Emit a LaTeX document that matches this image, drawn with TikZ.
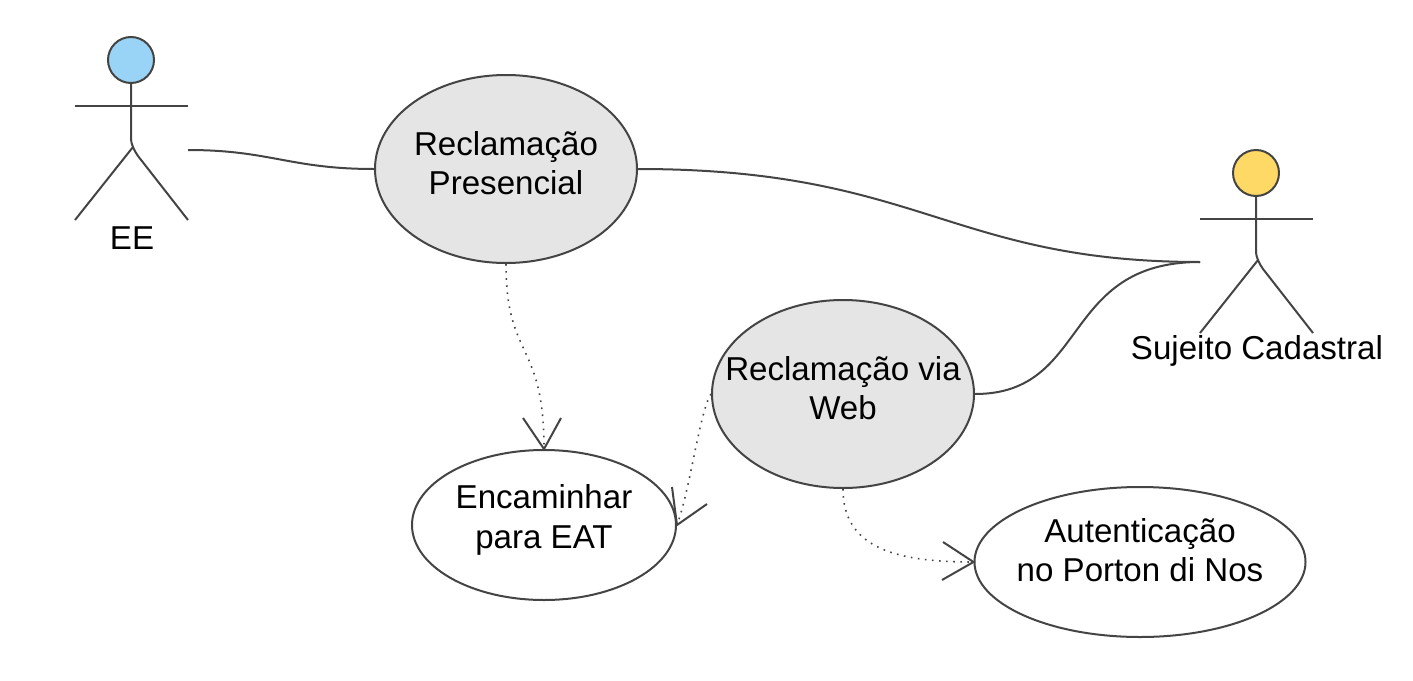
\documentclass[tikz,border=0pt]{standalone}
\usepackage{fontspec}
\setmainfont{Liberation Sans}
\usetikzlibrary{shapes.geometric}
\begin{document}
\begin{tikzpicture}[x=1pt,y=-1pt,
  usecase/.style={draw=linegray, line width=2pt, ellipse, inner sep=0pt},
  caselabel/.style={align=center, inner sep=0pt, font=\fontsize{33.1}{39.5}\selectfont, text=black},
  actorlabel/.style={font=\fontsize{33.1}{39}\selectfont, text=black, inner sep=0pt},
  line/.style={draw=linegray, line width=2pt},
  depline/.style={draw=linegray, line width=1.6pt, dash pattern=on 1.6pt off 5.5pt}]
  % Define colors
  \definecolor{linegray}{RGB}{68,68,68}
  \definecolor{casegray}{RGB}{229,229,229}
  \definecolor{actorblue}{RGB}{153,211,245}
  \definecolor{actoryellow}{RGB}{255,217,102}
  \useasboundingbox (0,0) rectangle (1413,680);

  % Actors
  \foreach \name/\x/\y/\color in {ee/131/60/actorblue,sc/1256/173/actoryellow} {
    \begin{scope}[shift={(\x,\y)}]
      \node[circle, draw=linegray, fill=\color, line width=2pt, minimum size=46pt, inner sep=0pt] (\name head) at (0,0) {};
      \coordinate (\name hip) at (2,87);
      \coordinate (\name left) at (-56,46);
      \coordinate (\name right) at (57,46);
      \coordinate (\name footl) at (-56,160);
      \coordinate (\name footr) at (57,160);
      \draw[line] (\name head.south) -- (0,77) .. controls (0,82) and (1,85) .. (\name hip) .. controls (3,90) and (5,93) .. (7,96) -- (\name footr);
      \draw[line] (\name left) -- (\name right);
      \draw[line] (\name footl) -- (\name hip);
    \end{scope}
  }
  \node[actorlabel] (eelabel) at (132,238) {EE};
  \node[actorlabel] (sclabel) at (1257,351) {Sujeito Cadastral};

  % Use cases
  \node[usecase, fill=casegray, minimum width=262pt, minimum height=188pt] (presencial) at (506,169) {};
  \node[usecase, fill=casegray, minimum width=262pt, minimum height=188pt] (web) at (843,394) {};
  \node[usecase, fill=white, minimum width=264pt, minimum height=150pt] (eat) at (544,525) {};
  \node[usecase, fill=white, minimum width=331pt, minimum height=150pt] (porton) at (1140,562) {};
  \node[caselabel] (presenciallabel) at (506,163) {Reclamação\\Presencial};
  \node[caselabel] (weblabel) at (843,388) {Reclamação via\\Web};
  \node[caselabel] (eatlabel) at (544,520) {Encaminhar\\para EAT};
  \node[caselabel] (portonlabel) at (1140,550) {Autenticação\\no Porton di Nos};

  % Connectors
  \coordinate (eeend) at (188,150);
  \coordinate (scend) at (1200,262);
  \draw[line] (eeend) .. controls (270,150) and (290,169) .. (presencial.west);
  \draw[line] (presencial.east) .. controls (920,169) and (950,262) .. (scend);
  \draw[line] (web.east) .. controls (1090,394) and (1060,262) .. (scend);
  \draw[depline] (presencial.south) .. controls (506,360) and (544,340) .. (eat.north);
  \draw[depline] (web.west) .. controls (700,410) and (690,490) .. (eat.east);
  \draw[depline] (web.south) .. controls (843,550) and (900,562) .. (porton.west);

  % Open arrow heads
  \draw[line] (523,418) -- (eat.north) -- (561,418);
  \draw[line] (672,487) -- (eat.east) -- (707,504);
  \draw[line] (943,542) -- (porton.west) -- (942,580);
\end{tikzpicture}
\end{document}
